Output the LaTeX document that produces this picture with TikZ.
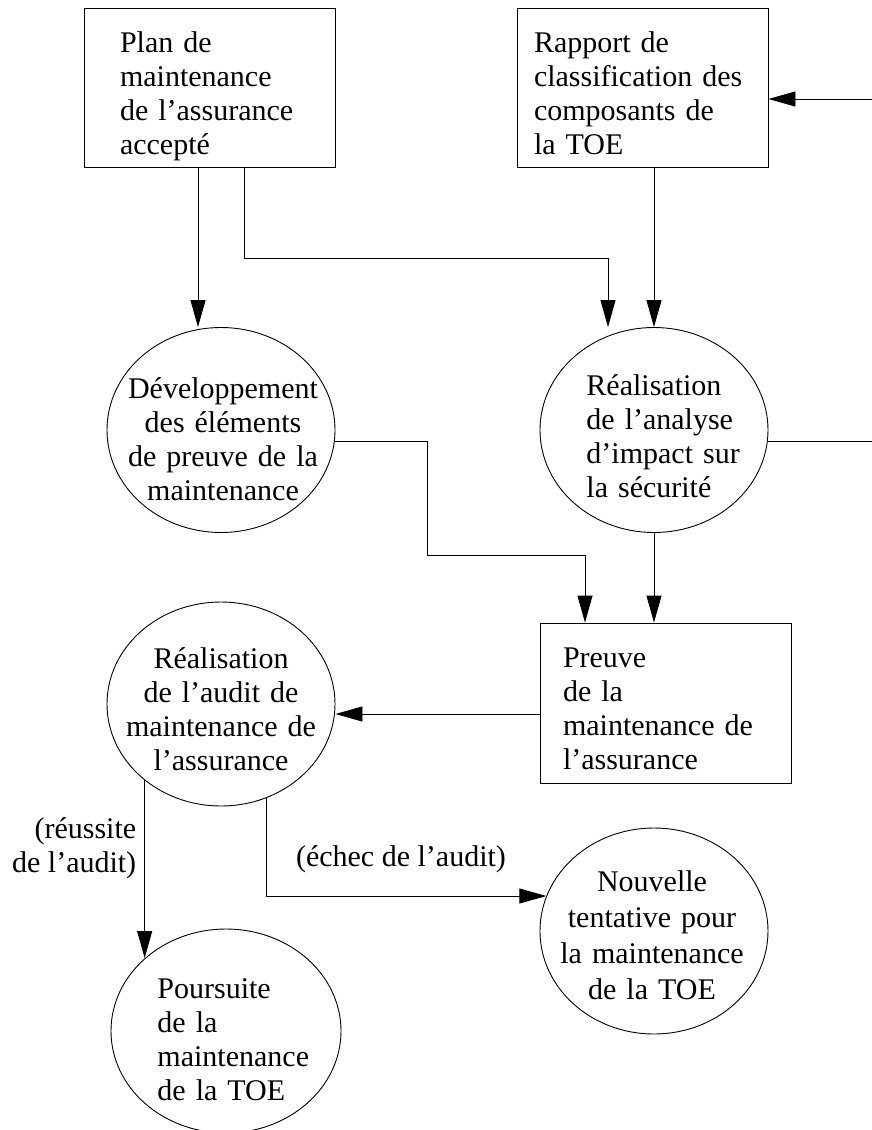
\documentclass[tikz,border=0pt]{standalone}
\usepackage{fontspec}
\setmainfont{Liberation Serif}
\usetikzlibrary{arrows.meta,shapes.geometric}
\begin{document}
\begin{tikzpicture}[x=1pt, y=-1pt,
  line width=0.9pt,
  box/.style={draw, rectangle, minimum width=251pt, minimum height=159pt, inner sep=0pt},
  oval/.style={draw, ellipse, minimum width=228pt, minimum height=205pt, inner sep=0pt},
  txt/.style={inner sep=0pt, font=\fontsize{30}{34}\selectfont},
  ltxt/.style={txt, anchor=base west, align=left, text width=#1},
  ctxt/.style={txt, anchor=base, align=center, text width=#1},
  arr/.style={-{Triangle[length=27pt,width=15pt]}},
]
% page area
\path[fill=white] (0,0) rectangle (872,1130);
\useasboundingbox (0,0) rectangle (872,1130);

% documents (rectangles) and activities (ellipses)
\node[box] (plan) at (209.5,87.5) {};
\node[box] (rapport) at (642.5,87.5) {};
\node[box, minimum height=160pt] (preuve) at (665.5,703) {};
\node[oval] (dev) at (221,430) {};
\node[oval] (impact) at (654,430) {};
\node[oval, minimum height=204pt] (audit) at (221,704) {};
\node[oval, minimum width=230pt, minimum height=204pt] (poursuite) at (226,1031) {};
\node[oval, minimum height=206pt] (nouvelle) at (654,931) {};

% texts
\node[ltxt=200pt] (plantext) at ([xshift=36pt,yshift=-45pt]plan.north west)
  {Plan de\\maintenance\\de l’assurance\\accepté};
\node[ltxt=230pt] (rapporttext) at ([xshift=17pt,yshift=-45pt]rapport.north west)
  {Rapport de\\classification des\\composants de\\la TOE};
\node[ltxt=220pt] (preuvetext) at ([xshift=23pt,yshift=-45pt]preuve.north west)
  {Preuve\\de la\\maintenance de\\l’assurance};
\node[ctxt=210pt] (devtext) at ([xshift=2pt,yshift=32pt]dev.center)
  {Développement\\des éléments\\de preuve de la\\maintenance};
\node[ltxt=170pt] (impacttext) at ([xshift=-68pt,yshift=35pt]impact.center)
  {Réalisation\\de l’analyse\\d’impact sur\\la sécurité};
\node[ctxt=210pt] (audittext) at ([yshift=36pt]audit.center)
  {Réalisation\\de l’audit de\\maintenance de\\l’assurance};
\node[ltxt=170pt] (poursuitetext) at ([xshift=-69pt,yshift=33pt]poursuite.center)
  {Poursuite\\de la\\maintenance\\de la TOE};
\node[ctxt=210pt, font=\fontsize{30}{36}\selectfont] (nouvelletext) at ([xshift=-2pt,yshift=40pt]nouvelle.center)
  {Nouvelle\\tentative pour\\la maintenance\\de la TOE};

% connectors
\coordinate (outA) at (872,441);
\coordinate (outB) at (872,99);

\draw[arr] ([xshift=-11.5pt]plan.south) -- ([xshift=-11.5pt]plan.south |- dev.north);
\draw[arr] ([xshift=34.5pt]plan.south) -- ++(0,91) -| ([xshift=-46pt]impact.north);
\draw[arr] (rapport.south -| impact.north) -- (impact.north);
\draw (impact.east |- outA) -- (outA);
\draw[arr] (outB) -- (rapport.east |- outB);
\draw[arr] (dev.east |- outA) -| (427,555) -| ([xshift=-80.5pt]preuve.north);
\draw[arr] (impact.south) -- (impact.south |- preuve.north);
\draw[arr] ([yshift=-11pt]preuve.west) -- ([yshift=-11pt]preuve.west -| audit.east);
\draw[arr] (audit.-135) -- (audit.-135 |- poursuite.138)
  node[txt, pos=0.38, anchor=east, align=right, xshift=-8pt] (reussite) {(réussite\\de l’audit)};
\draw[arr] (audit.-64) |- (nouvelle.162)
  node[txt, pos=0.74, anchor=base, yshift=30pt] (echec) {(échec de l’audit)};
\end{tikzpicture}
\end{document}
